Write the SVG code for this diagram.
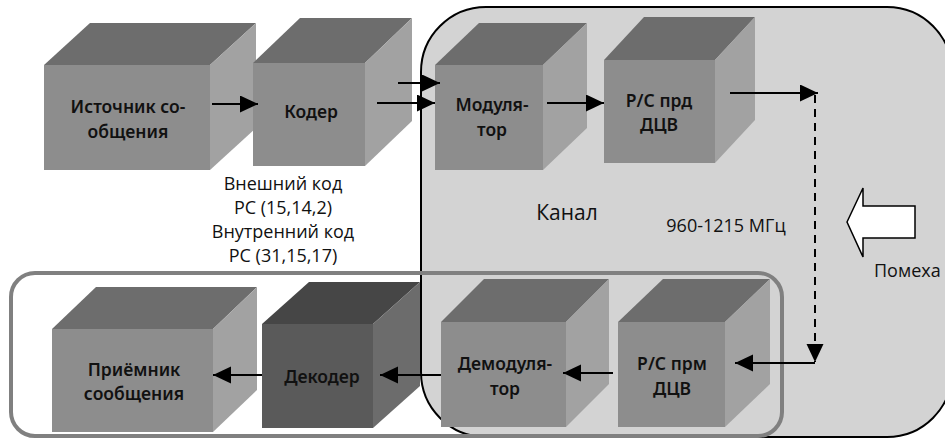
<svg xmlns="http://www.w3.org/2000/svg" width="945" height="439" viewBox="0 0 945 439">
<style>
.fr{fill:#8d8d8d}
.tp{fill:#6d6d6d}
.sd{fill:#a2a2a2}
.dk .fr{fill:#5a5a5a}
.dk .tp{fill:#464646}
.dk .sd{fill:#6c6c6c}
.lbl{font-family:"Noto Sans","Liberation Sans",Arial,sans-serif;font-size:17.5px;font-weight:600;fill:#111;text-anchor:middle}
.txt{font-family:"Open Sans","Liberation Sans",sans-serif;font-size:18px;fill:#111;text-anchor:middle}
.cn{stroke:#000;stroke-width:2;fill:none}
</style>
<defs>
<marker id="ah" markerUnits="userSpaceOnUse" markerWidth="19" markerHeight="18" refX="18" refY="8.5" orient="auto">
<path d="M0,0 L18,8.5 L0,17 z" fill="#000"/>
</marker>
</defs>
<rect width="945" height="439" fill="#fff"/>
<g id="channel">
<rect x="421" y="7" width="531" height="430" rx="65" ry="65" fill="#d3d3d3" stroke="#000" stroke-width="2"/>
</g>
<g id="rx-group">
<rect x="11" y="273" width="771" height="163" rx="24" ry="24" fill="none" stroke="#808080" stroke-width="4"/>
</g>
<g id="source">
<rect class="fr" x="44" y="65" width="166" height="105"/>
<polygon class="tp" points="44,65 90,23 256,23 210,65"/>
<polygon class="sd" points="210,65 256,23 256,128 210,170"/>
<text class="lbl" x="128" y="113">Источник со-</text>
<text class="lbl" x="128" y="138">общения</text>
</g>
<g id="coder">
<rect class="fr" x="253" y="63" width="112" height="103"/>
<polygon class="tp" points="253,63 300,18 412,18 365,63"/>
<polygon class="sd" points="365,63 412,18 412,121 365,166"/>
<text class="lbl" x="311" y="118">Кодер</text>
</g>
<g id="modulator">
<rect class="fr" x="435" y="65" width="108" height="105"/>
<polygon class="tp" points="435,65 479,23 587,23 543,65"/>
<polygon class="sd" points="543,65 587,23 587,128 543,170"/>
<text class="lbl" x="492" y="111">Модуля-</text>
<text class="lbl" x="492" y="136">тор</text>
</g>
<g id="tx">
<rect class="fr" x="604" y="60" width="111" height="103"/>
<polygon class="tp" points="604,60 644,17 755,17 715,60"/>
<polygon class="sd" points="715,60 755,17 755,120 715,163"/>
<text class="lbl" x="659" y="107">Р/С прд</text>
<text class="lbl" x="659" y="131">ДЦВ</text>
</g>
<g id="receiver">
<rect class="fr" x="52" y="329" width="161" height="103"/>
<polygon class="tp" points="52,329 96,287 257,287 213,329"/>
<polygon class="sd" points="213,329 257,287 257,390 213,432"/>
<text class="lbl" x="134" y="376">Приёмник</text>
<text class="lbl" x="134" y="400">сообщения</text>
</g>
<g id="decoder" class="dk">
<rect class="fr" x="262" y="324" width="111" height="104"/>
<polygon class="tp" points="262,324 309,282 420,282 373,324"/>
<polygon class="sd" points="373,324 420,282 420,386 373,428"/>
<text class="lbl" x="322" y="383">Декодер</text>
</g>
<g id="demodulator">
<rect class="fr" x="441" y="322" width="125" height="105"/>
<polygon class="tp" points="441,322 484,279 609,279 566,322"/>
<polygon class="sd" points="566,322 609,279 609,384 566,427"/>
<text class="lbl" x="505" y="370">Демодуля-</text>
<text class="lbl" x="505" y="395">тор</text>
</g>
<g id="rxdcv">
<rect class="fr" x="618" y="322" width="107" height="105"/>
<polygon class="tp" points="618,322 663,279 770,279 725,322"/>
<polygon class="sd" points="725,322 770,279 770,384 725,427"/>
<text class="lbl" x="672" y="370">Р/С прм</text>
<text class="lbl" x="672" y="395">ДЦВ</text>
</g>
<g id="noise">
<polygon points="847,222 863,188 863,206 915,206 915,238 863,238 863,257" fill="#fff" stroke="#000" stroke-width="1.5"/>
<text class="txt" x="874" y="277" style="text-anchor:start">Помеха</text>
</g>
<g id="connectors">
<line class="cn" x1="212" y1="104" x2="258" y2="104" marker-end="url(#ah)"/>
<line class="cn" x1="398" y1="83" x2="440" y2="83" marker-end="url(#ah)"/>
<line class="cn" x1="377" y1="103" x2="435" y2="103" marker-end="url(#ah)"/>
<line class="cn" x1="547" y1="103" x2="604" y2="103" marker-end="url(#ah)"/>
<line class="cn" x1="730" y1="93" x2="818" y2="93" marker-end="url(#ah)"/>
<line class="cn" x1="815" y1="95" x2="815" y2="362" stroke-dasharray="8,6" marker-end="url(#ah)"/>
<line class="cn" x1="815" y1="363" x2="735" y2="363" marker-end="url(#ah)"/>
<line class="cn" x1="613" y1="373" x2="563" y2="373" marker-end="url(#ah)"/>
<line class="cn" x1="441" y1="375" x2="380" y2="375" marker-end="url(#ah)"/>
<line class="cn" x1="262" y1="375" x2="213" y2="375" marker-end="url(#ah)"/>
</g>
<g id="labels">
<text class="txt" x="283" y="190">Внешний код</text>
<text class="txt" x="283" y="214">РС (15,14,2)</text>
<text class="txt" x="283" y="238">Внутренний код</text>
<text class="txt" x="283" y="262">РС (31,15,17)</text>
<text class="txt" x="567" y="220" style="font-size:21px">Канал</text>
<text class="txt" x="726" y="232">960-1215 МГц</text>
</g>
</svg>
